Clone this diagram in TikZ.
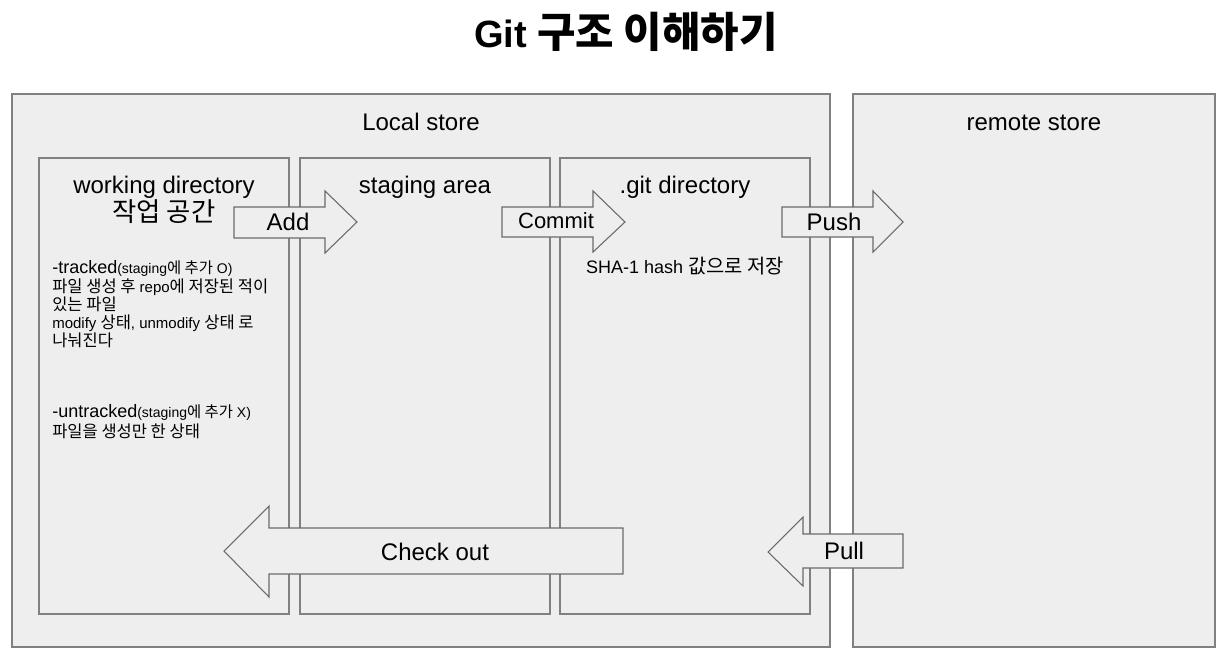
\documentclass[tikz,border=0pt]{standalone}
\usepackage{fontspec}
\setmainfont{Liberation Sans}
\newfontfamily\kofont{Noto Sans CJK KR}[Scale=1.1]
\newcommand{\ko}[1]{{\kofont #1}}
\usetikzlibrary{positioning}

\definecolor{boxgray}{HTML}{EEEEEE}
\definecolor{linegray}{HTML}{808080}
\definecolor{arrowgray}{HTML}{6A6A6A}

\tikzset{
	store/.style={draw=linegray, line width=1.1pt, fill=boxgray, inner sep=0pt},
	area/.style={draw=linegray, line width=1.1pt, fill=boxgray, inner sep=0pt},
	flow/.style={draw=arrowgray, line width=0.8pt, fill=boxgray, line join=miter},
	title/.style={font=\fontsize{18}{21}\selectfont, anchor=base, inner sep=0pt},
	note/.style={font=\fontsize{11.25}{13.5}\selectfont, anchor=base west, inner sep=0pt},
}

\begin{document}
\begin{tikzpicture}[x=0.75pt, y=-0.75pt]
	
	\useasboundingbox[fill=white] (0,0) rectangle (1224,657);
	
	\node[anchor=base, inner sep=0pt, font=\fontsize{28.5}{34}\selectfont\bfseries] (head) at (626,47) {Git \ko{구조 이해하기}};
	
	\node[store, minimum width=613.5pt, minimum height=414.75pt] (local)  at (421,370.5)  {};
	\node[store, minimum width=271.5pt, minimum height=414.75pt] (remote) at (1034,370.5) {};
	\node[area, minimum width=187.5pt, minimum height=342pt] (work)  at (164,386) {};
	\node[area, minimum width=187.5pt, minimum height=342pt] (stage) at (425,386) {};
	\node[area, minimum width=187.5pt, minimum height=342pt] (repo)  at (685,386) {};
	
	\node[title] (localtxt)  at (421,130)  {Local store};
	\node[title] (remotetxt) at (1034,130) {remote store};
	\node[title] (worktxt)   at (164,193)  {working directory};
	\node[title, font=\fontsize{18}{21}\selectfont\kofont] (workko) at (164,221) {작업 공간};
	\node[title] (stagetxt)  at (425,193)  {staging area};
	\node[title] (repotxt)   at (685,193)  {.git directory};
	
	% add, commit, push
	\draw[flow] (234,207) -- (325,207) -- (325,191) -- (357,222) -- (325,253) -- (325,238) -- (234,238) -- cycle;
	\draw[flow] (502,207) -- (593,207) -- (593,191) -- (625,222) -- (593,252) -- (593,237) -- (502,237) -- cycle;
	\draw[flow] (782,207) -- (873,207) -- (873,191) -- (903,222) -- (873,252) -- (873,237) -- (782,237) -- cycle;
	\node[title] (add)    at (288,230) {Add};
	\node[title, font=\fontsize{16.5}{20}\selectfont] (commit) at (556,228) {Commit};
	\node[title] (push)   at (834,230) {Push};
	
	% check out, pull
	\draw[flow] (623,528) -- (269,528) -- (269,506) -- (224,551) -- (269,597) -- (269,574) -- (623,574) -- cycle;
	\draw[flow] (903,534) -- (803,534) -- (803,517) -- (768,552) -- (803,586) -- (803,568) -- (903,568) -- cycle;
	\node[title] (checkout) at (435,560) {Check out};
	\node[title] (pull)     at (844,559) {Pull};
	
	\node[title, font=\fontsize{13.5}{16}\selectfont] (hash) at (685,273) {SHA-1 hash \ko{값으로 저장}};
	
	\node[note] (t1) at (52,273) {\fontsize{13.5}{16}\selectfont -tracked\fontsize{10.5}{12}\selectfont(staging\ko{에 추가} O)};
	\node[note] (t2) at (52,292) {\ko{파일 생성 후} repo\ko{에 저장된 적이}};
	\node[note] (t3) at (52,310) {\ko{있는 파일}};
	\node[note] (t4) at (52,328) {modify \ko{상태}, unmodify \ko{상태 로}};
	\node[note] (t5) at (52,346) {\ko{나눠진다}};
	\node[note] (u1) at (52,417) {\fontsize{13.5}{16}\selectfont -untracked\fontsize{10.5}{12}\selectfont(staging\ko{에 추가} X)};
	\node[note] (u2) at (52,437) {\ko{파일을 생성만 한 상태}};
	
\end{tikzpicture}
\end{document}
